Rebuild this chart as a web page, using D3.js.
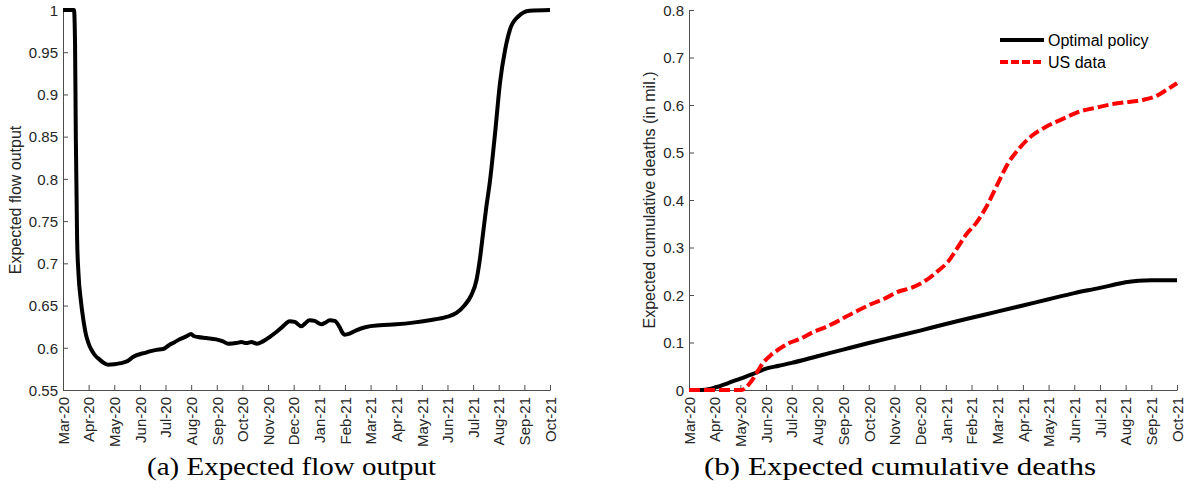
<!DOCTYPE html>
<html>
<head>
<meta charset="utf-8">
<script src="https://d3js.org/d3.v7.min.js"></script>
<style>
  body { margin: 0; background: #fff; }
  svg text { font-family: "Liberation Sans", Arial, sans-serif; }
  .axis path, .axis line { stroke: #4d4d4d; }
  .axis text { fill: #262626; font-size: 15px; }
</style>
</head>
<body>
<div id="chart"></div>
<script>
// month labels, one tick per month (index 0 = Mar-20)
var monthLabels = ["Mar-20", "Apr-20", "May-20", "Jun-20", "Jul-20", "Aug-20", "Sep-20", "Oct-20",
                   "Nov-20", "Dec-20", "Jan-21", "Feb-21", "Mar-21", "Apr-21", "May-21", "Jun-21",
                   "Jul-21", "Aug-21", "Sep-21", "Oct-21"];

// (a) expected flow output
var flowMonths = [0, 0.43, 0.47, 0.5, 0.55, 0.6, 0.7, 0.8, 0.9, 1.0, 1.1, 1.25, 1.43, 1.6, 1.76, 2.0, 2.2,
                  2.34, 2.53, 2.73, 2.9, 3.06, 3.2, 3.38, 3.64, 3.9, 4.16, 4.35, 4.55, 4.81, 5.0, 5.1, 5.27,
                  5.59, 5.98, 6.24, 6.44, 6.6, 6.76, 6.96, 7.15, 7.35, 7.57, 7.8, 8.06, 8.32, 8.58, 8.84,
                  9.04, 9.3, 9.45, 9.62, 9.82, 10.08, 10.25, 10.4, 10.6, 10.79, 10.92, 10.99, 11.18, 11.44,
                  11.83, 12.36, 13.0, 13.66, 14.3, 14.96, 15.35, 15.67, 15.93, 16.13, 16.26, 16.39, 16.5,
                  16.66, 16.86, 17.05, 17.25, 17.44, 17.75, 18.2, 19];
var flowValues = [1.0, 1.0, 0.96, 0.85, 0.73, 0.69, 0.655, 0.632, 0.615, 0.605, 0.598, 0.591, 0.586, 0.582,
                  0.580, 0.5805, 0.5815, 0.5825, 0.5845, 0.589, 0.5915, 0.593, 0.594, 0.5957, 0.5975, 0.5985,
                  0.6036, 0.6065, 0.610, 0.6135, 0.6163, 0.614, 0.6127, 0.6115, 0.610, 0.6076, 0.6048, 0.605,
                  0.6056, 0.6068, 0.6056, 0.6068, 0.6048, 0.6076, 0.6127, 0.6187, 0.6254, 0.6314, 0.6306,
                  0.6254, 0.629, 0.6326, 0.6318, 0.6278, 0.630, 0.6326, 0.6318, 0.6246, 0.617, 0.6155, 0.6167,
                  0.6207, 0.6246, 0.6266, 0.6278, 0.6298, 0.6326, 0.6365, 0.6413, 0.6504, 0.6624, 0.680,
                  0.704, 0.7358, 0.763, 0.798, 0.855, 0.914, 0.953, 0.977, 0.992, 0.999, 1.0];
var flowTicks = [0.55, 0.6, 0.65, 0.7, 0.75, 0.8, 0.85, 0.9, 0.95, 1];

// (b) expected cumulative deaths (in millions)
var optMonths = [0, 0.5, 0.8, 1, 1.5, 2, 2.5, 3, 3.5, 4, 5, 6, 7, 8, 9, 10, 11, 12, 13, 14, 15, 16, 16.5,
                 17, 17.5, 18, 19];
var optValues = [0, 0, 0.002, 0.005, 0.014, 0.024, 0.034, 0.045, 0.051, 0.057, 0.071, 0.085, 0.099, 0.112,
                 0.125, 0.139, 0.152, 0.165, 0.178, 0.191, 0.204, 0.215, 0.221, 0.227, 0.230, 0.231, 0.231];
var usMonths = [0, 2.05, 2.2, 2.35, 2.5, 2.7, 2.9, 3.2, 3.5, 3.9, 4.3, 4.8, 5.3, 5.8, 6.1, 6.6, 7.1, 7.6,
                8.1, 8.7, 9.2, 9.7, 10.1, 10.4, 10.8, 11.2, 11.6, 12.0, 12.4, 12.8, 13.3, 13.9, 14.6, 15.2,
                15.9, 16.5, 17.2, 17.7, 18.2, 18.6, 19];
var usValues = [0, 0, 0.004, 0.013, 0.024, 0.042, 0.058, 0.074, 0.086, 0.099, 0.107, 0.121, 0.132, 0.145,
                0.154, 0.168, 0.181, 0.192, 0.206, 0.216, 0.230, 0.251, 0.271, 0.295, 0.328, 0.353, 0.388,
                0.432, 0.475, 0.505, 0.533, 0.554, 0.572, 0.586, 0.595, 0.602, 0.607, 0.611, 0.619, 0.632,
                0.646];
var deathTicks = [0, 0.1, 0.2, 0.3, 0.4, 0.5, 0.6, 0.7, 0.8];

var legendNames = ["Optimal policy", "US data"];
var captions = ["(a) Expected flow output", "(b) Expected cumulative deaths"];

var width = 1190, height = 491;

var svg = d3.select("#chart")
    .append("svg")
    .attr("width", width)
    .attr("height", height);

svg.append("rect")
    .attr("width", width)
    .attr("height", height)
    .attr("fill", "#fff");

function zip(xs, ys) {
  return xs.map(function(x, i) { return [x, ys[i]]; });
}

// draws one panel: axes + returns scales
function panel(left, right, yDomain, yTicks, yFormat, yLabel, labelX) {
  var x = d3.scaleLinear().domain([0, 19]).range([left, right]);
  var y = d3.scaleLinear().domain(yDomain).range([390, 10]);

  var gy = svg.append("g")
      .attr("class", "axis")
      .attr("transform", "translate(" + left + ",0)")
      .call(d3.axisLeft(y)
        .tickValues(yTicks)
        .tickFormat(yFormat)
        .tickSizeInner(-5)
        .tickSizeOuter(0)
        .tickPadding(5));
  gy.selectAll("text").attr("dy", "0.35em");

  var gx = svg.append("g")
      .attr("class", "axis")
      .attr("transform", "translate(0,390)")
      .call(d3.axisBottom(x)
        .tickValues(d3.range(0, 20))
        .tickFormat(function(d) { return monthLabels[d]; })
        .tickSizeInner(-5)
        .tickSizeOuter(0));
  gx.selectAll("text")
      .attr("x", -7)
      .attr("y", 0)
      .attr("dy", "0.35em")
      .attr("transform", "rotate(-90)")
      .style("text-anchor", "end");

  svg.append("text")
      .attr("transform", "translate(" + labelX + ",200) rotate(-90)")
      .style("text-anchor", "middle")
      .attr("font-size", 16)
      .attr("fill", "#262626")
      .text(yLabel);

  return {x: x, y: y};
}

var a = panel(63, 550, [0.55, 1], flowTicks, function(d) { return d3.format("")(+d.toFixed(2)); },
              "Expected flow output", 21);
var b = panel(689, 1177, [0, 0.8], deathTicks, function(d) { return d3.format("")(+d.toFixed(1)); },
              "Expected cumulative deaths (in mil.)", 655);

var lineA = d3.line()
    .x(function(d) { return a.x(d[0]); })
    .y(function(d) { return a.y(d[1]); })
    .curve(d3.curveMonotoneX);

svg.append("path")
    .datum(zip(flowMonths, flowValues))
    .attr("d", lineA)
    .attr("fill", "none")
    .attr("stroke", "#000")
    .attr("stroke-width", 4)
    .attr("stroke-linejoin", "round");

var lineB = d3.line()
    .x(function(d) { return b.x(d[0]); })
    .y(function(d) { return b.y(d[1]); })
    .curve(d3.curveMonotoneX);

var styles = [{stroke: "#000", dash: null}, {stroke: "#ff0000", dash: "11,4"}];

svg.append("path")
    .datum(zip(optMonths, optValues))
    .attr("d", lineB)
    .attr("fill", "none")
    .attr("stroke", styles[0].stroke)
    .attr("stroke-width", 4);

svg.append("path")
    .datum(zip(usMonths, usValues))
    .attr("d", lineB)
    .attr("fill", "none")
    .attr("stroke", styles[1].stroke)
    .attr("stroke-width", 4)
    .attr("stroke-dasharray", styles[1].dash);

// legend, no box
var legend = svg.selectAll(".legend")
    .data(legendNames)
    .enter()
    .append("g")
    .attr("class", "legend")
    .attr("transform", function(d, i) { return "translate(1000," + (40 + i * 22) + ")"; });

legend.append("line")
    .attr("x1", 0)
    .attr("x2", 44)
    .attr("stroke", function(d, i) { return styles[i].stroke; })
    .attr("stroke-width", 4)
    .attr("stroke-dasharray", function(d, i) { return i ? "8,3" : null; });

legend.append("text")
    .attr("x", 48)
    .attr("dy", "0.35em")
    .attr("font-size", 16)
    .attr("fill", "#000")
    .text(function(d) { return d; });

// captions under each panel
svg.selectAll(".caption")
    .data(captions)
    .enter()
    .append("text")
    .attr("class", "caption")
    .attr("x", function(d, i) { return i === 0 ? 147 : 704; })
    .attr("y", 475)
    .attr("textLength", function(d, i) { return i === 0 ? 289 : 392; })
    .attr("lengthAdjust", "spacingAndGlyphs")
    .style("font-family", "'Liberation Serif', 'Times New Roman', serif")
    .attr("font-size", 25)
    .attr("fill", "#000")
    .text(function(d) { return d; });
</script>
</body>
</html>
